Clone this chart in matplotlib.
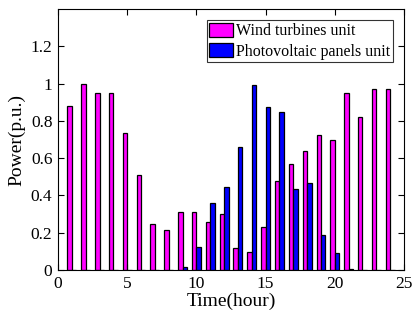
import numpy as np
import matplotlib
matplotlib.use("Agg")
import matplotlib.pyplot as plt

plt.rcParams['font.family'] = ['Liberation Serif', 'DejaVu Serif']

hours = list(range(1, 25))
wind = [0.88, 1.00, 0.95, 0.95, 0.737, 0.51, 0.247, 0.213, 0.31, 0.31, 0.256, 0.301,
        0.116, 0.097, 0.233, 0.475, 0.566, 0.64, 0.724, 0.697, 0.95, 0.819, 0.969, 0.969]
pv = [0, 0, 0, 0, 0, 0, 0, 0, 0.016, 0.125, 0.357, 0.446,
      0.66, 0.995, 0.876, 0.849, 0.435, 0.468, 0.188, 0.091, 0.004, 0, 0, 0]
series_names = ["Wind turbines unit", "Photovoltaic panels unit"]
x_ticks = [0, 5, 10, 15, 20, 25]
y_ticks = [0, 0.2, 0.4, 0.6, 0.8, 1.0, 1.2]
y_tick_labels = ["0", "0.2", "0.4", "0.6", "0.8", "1", "1.2"]

W, H = 413, 323
fig = plt.figure(figsize=(W / 100, H / 100), dpi=100)
ax = fig.add_axes([58 / W, 1 - 270 / H, (404 - 58) / W, (270 - 9) / H])

x = np.array(hours, dtype=float)
bw = 0.32
ax.bar(x - bw / 2, wind, width=bw, color="#ff00ff", edgecolor="black",
       linewidth=0.9, label=series_names[0])
ax.bar(x + bw / 2, pv, width=bw, color="#0000ff", edgecolor="black",
       linewidth=0.9, label=series_names[1])

ax.set_xlim(0, 25)
ax.set_ylim(0, 1.4)
ax.set_xticks(x_ticks)
ax.set_yticks(y_ticks)
ax.set_yticklabels(y_tick_labels)
ax.tick_params(direction="in", top=True, right=True, labelsize=12.5,
               length=4, width=0.8, pad=4)
for s in ax.spines.values():
    s.set_linewidth(0.8)

ax.set_xlabel("Time(hour)", fontsize=14, labelpad=1)
ax.set_ylabel("Power(p.u.)", fontsize=14, labelpad=4)

leg = ax.legend(loc="upper right", fontsize=11.5, frameon=True, fancybox=False,
                edgecolor="black", handlelength=1.5, handleheight=1.0,
                handletextpad=0.2, borderpad=0.15, labelspacing=0.25,
                borderaxespad=0.7)
leg.get_frame().set_linewidth(0.8)

fig.savefig("out.png", dpi=100)
